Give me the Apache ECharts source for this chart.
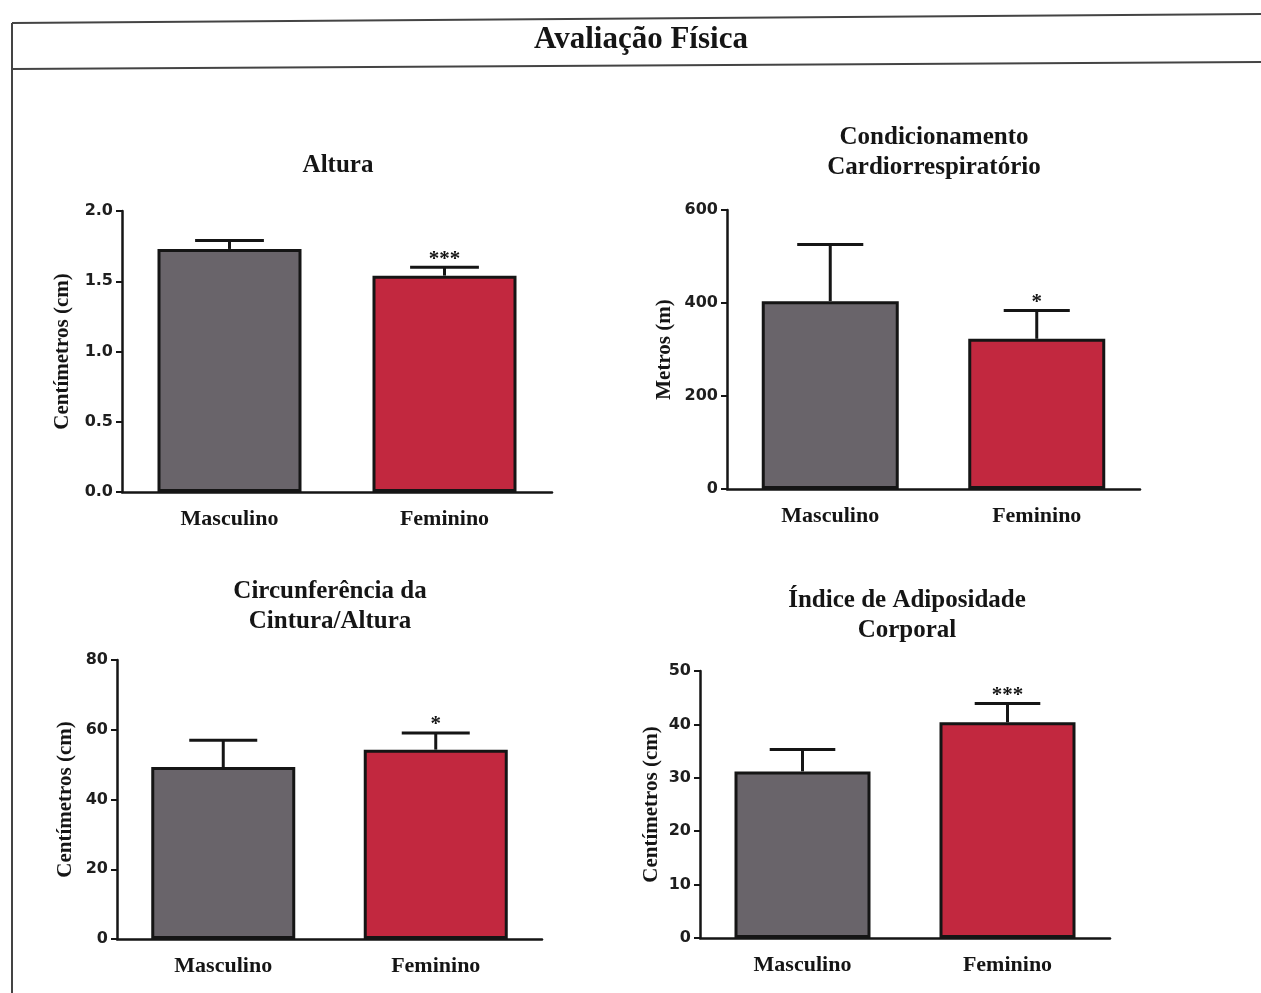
<!DOCTYPE html>
<html>
<head>
<meta charset="utf-8">
<script src="https://cdn.jsdelivr.net/npm/echarts@6/dist/echarts.min.js"></script>
<style>
html,body{margin:0;padding:0;background:#fff;}
#main{width:1261px;height:993px;}
</style>
</head>
<body>
<div id="main"></div>
<script>
const categories = ['Masculino', 'Feminino'];

const alturaMean = [1.73, 1.54];
const alturaUpper = [1.79, 1.60];
const alturaSig = ['', '***'];

const condMean = [404, 323];
const condUpper = [526, 384];
const condSig = ['', '*'];

const circMean = [49.3, 54.3];
const circUpper = [57.0, 59.1];
const circSig = ['', '*'];

const iacMean = [31.2, 40.4];
const iacUpper = [35.3, 43.9];
const iacSig = ['', '***'];

const mainTitle = 'Avaliação Física';
const panelTitles = ['Altura', 'Condicionamento\nCardiorrespiratório', 'Circunferência da\nCintura/Altura', 'Índice de Adiposidade\nCorporal'];
const yNames = ['Centímetros (cm)', 'Metros (m)', 'Centímetros (cm)', 'Centímetros (cm)'];
const yRanges = [[0, 2, 0.5], [0, 600, 200], [0, 80, 20], [0, 50, 10]];

const panels = [
  {mean: alturaMean, upper: alturaUpper, sig: alturaSig},
  {mean: condMean, upper: condUpper, sig: condSig},
  {mean: circMean, upper: circUpper, sig: circSig},
  {mean: iacMean, upper: iacUpper, sig: iacSig}
];

const barColors = ['#69646a', '#c2283f'];
const ink = '#151515';
const serif = '"Liberation Serif", "Times New Roman", serif';
const sans = '"DejaVu Sans", sans-serif';

const grids = [
  {left: 122, top: 211, width: 430, height: 281},
  {left: 727, top: 210, width: 413, height: 279},
  {left: 117, top: 660, width: 425, height: 279},
  {left: 700, top: 671, width: 410, height: 267}
];
const nameGaps = [49, 52, 41, 38];
const barWidths = [144, 137, 144, 136];
const titlePos = [[338, 166], [934, 153], [330, 607], [907, 616]];

const chart = echarts.init(document.getElementById('main'), null, {renderer: 'canvas'});

const xAxes = grids.map((g, i) => ({
  type: 'category', gridIndex: i, data: categories,
  axisLine: {lineStyle: {color: ink, width: 2.5}},
  axisTick: {alignWithLabel: true, length: 8, inside: false, lineStyle: {color: ink, width: 2}},
  axisLabel: {margin: 16, color: ink, fontFamily: serif, fontWeight: 'bold', fontSize: 22}
}));

const yAxes = grids.map((g, i) => ({
  type: 'value', gridIndex: i,
  min: yRanges[i][0], max: yRanges[i][1], interval: yRanges[i][2],
  name: yNames[i], nameLocation: 'middle', nameGap: nameGaps[i], nameRotate: 90,
  nameTextStyle: {color: ink, fontFamily: serif, fontWeight: 'bold', fontSize: 21},
  splitLine: {show: false},
  axisLine: {show: true, lineStyle: {color: ink, width: 2.5}},
  axisTick: {show: true, length: 6, lineStyle: {color: ink, width: 2}},
  axisLabel: {margin: 9, color: '#1e1e1e', fontFamily: sans, fontWeight: 'bold', fontSize: 16,
    formatter: v => i === 0 ? v.toFixed(1) : String(v)}
}));

function makeErr(sig) {
  return function (params, api) {
    const x = api.value(0), mean = api.value(1), up = api.value(2);
    const pM = api.coord([x, mean]);
    const pU = api.coord([x, up]);
    const bw = api.size([1, 0])[0];
    const half = bw * 0.16;
    const children = [
      {type: 'line', shape: {x1: pM[0], y1: pM[1], x2: pU[0], y2: pU[1]}, style: {stroke: ink, lineWidth: 3}},
      {type: 'line', shape: {x1: pU[0] - half, y1: pU[1], x2: pU[0] + half, y2: pU[1]}, style: {stroke: ink, lineWidth: 3}}
    ];
    const s = sig[params.dataIndex];
    if (s) {
      children.push({type: 'text', x: pU[0], y: pU[1] - 8,
        style: {text: s, textAlign: 'center', textVerticalAlign: 'middle', font: 'bold 21px ' + serif, fill: ink}});
    }
    return {type: 'group', children: children};
  };
}

const series = [];
panels.forEach((p, i) => {
  series.push({
    type: 'bar', xAxisIndex: i, yAxisIndex: i, barWidth: barWidths[i],
    data: p.mean.map((v, k) => ({value: v, itemStyle: {color: barColors[k]}})),
    itemStyle: {borderColor: ink, borderWidth: 3},
    silent: true, animation: false
  });
  series.push({
    type: 'custom', xAxisIndex: i, yAxisIndex: i, renderItem: makeErr(p.sig),
    data: p.mean.map((v, k) => [k, v, p.upper[k]]), z: 5, silent: true, animation: false
  });
});

const graphics = [
  {type: 'line', shape: {x1: 12, y1: 23, x2: 1261, y2: 14}, style: {stroke: '#444', lineWidth: 2}},
  {type: 'line', shape: {x1: 12, y1: 69, x2: 1261, y2: 62}, style: {stroke: '#444', lineWidth: 2}},
  {type: 'line', shape: {x1: 12, y1: 23, x2: 12, y2: 993}, style: {stroke: '#444', lineWidth: 2}},
  {type: 'text', x: 641, y: 40, style: {text: mainTitle, textAlign: 'center', textVerticalAlign: 'middle', font: 'bold 31px ' + serif, fill: ink}}
];
panelTitles.forEach((t, i) => {
  graphics.push({type: 'text', x: titlePos[i][0], y: titlePos[i][1],
    style: {text: t, textAlign: 'center', textVerticalAlign: 'middle', font: 'bold 25px ' + serif, lineHeight: 30, fill: ink}});
});

chart.setOption({
  backgroundColor: '#ffffff',
  animation: false,
  grid: grids,
  xAxis: xAxes,
  yAxis: yAxes,
  series: series,
  graphic: graphics
});
</script>
</body>
</html>
